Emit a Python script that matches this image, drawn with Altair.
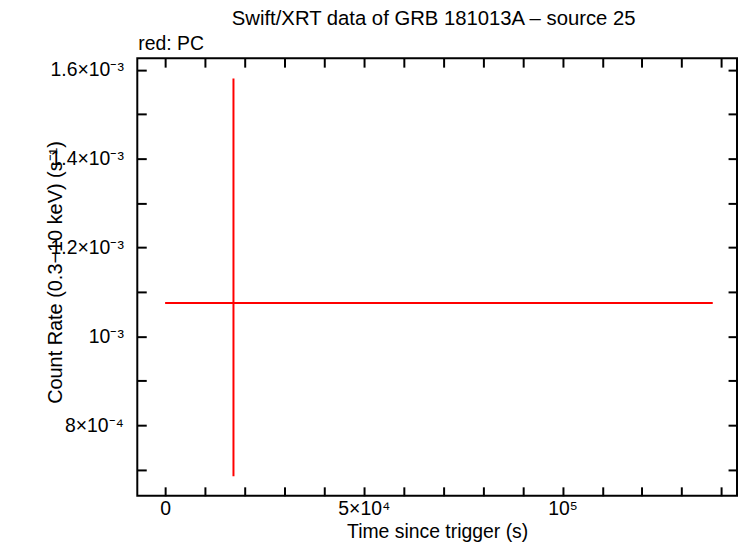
import altair as alt
import pandas as pd

# ---- data ----
T_CENTRE = [17200]
T_START = [0]
T_END = [137800]
RATE = [1.075e-3]
RATE_LO = [6.85e-4]
RATE_HI = [1.580e-3]

X_LABEL_VALUES = [0, 50000, 100000]
X_LABEL_TEXT = ["0", "5×10⁴", "10⁵"]
X_TICK_VALUES = [0, 10000, 20000, 30000, 40000, 50000, 60000, 70000,
                 80000, 90000, 100000, 110000, 120000, 130000, 140000]
Y_LABEL_VALUES = [8e-4, 1.0e-3, 1.2e-3, 1.4e-3, 1.6e-3]
Y_LABEL_TEXT = ["8×10⁻⁴", "10⁻³", "1.2×10⁻³", "1.4×10⁻³", "1.6×10⁻³"]
Y_TICK_VALUES = [7e-4, 8e-4, 9e-4, 1.0e-3, 1.1e-3, 1.2e-3, 1.3e-3,
                 1.4e-3, 1.5e-3, 1.6e-3]

X_DOMAIN = [-7000, 143900]
Y_DOMAIN = [6.41e-4, 1.6258e-3]

TITLE = "Swift/XRT data of GRB 181013A – source 25"
SUBTITLE = "red: PC"
X_TITLE = "Time since trigger (s)"
Y_TITLE = "Count Rate (0.3−10 keV) (s⁻¹)"

FONT = "Liberation Sans"
RED = "#ff0000"
W, H = 603, 440

df = pd.DataFrame({
    "t": T_CENTRE, "t0": T_START, "t1": T_END,
    "rate": RATE, "lo": RATE_LO, "hi": RATE_HI,
})


def label_expr(values, texts, eps):
    expr = "''"
    for v, t in reversed(list(zip(values, texts))):
        expr = f"abs(datum.value - ({v!r})) < {eps} ? '{t}' : ({expr})"
    return expr


xs = alt.Scale(domain=X_DOMAIN, nice=False, zero=False)
ys = alt.Scale(domain=Y_DOMAIN, nice=False, zero=False)

common_lab = dict(labelFont=FONT, labelFontSize=19.5, labelColor="black",
                  titleFont=FONT, titleColor="black",
                  titleFontWeight="normal", grid=False, domain=False, ticks=False,
                  labelFlush=False, labelOverlap=False)

x_label_axis = alt.Axis(orient="bottom", values=X_LABEL_VALUES,
                        labelExpr=label_expr(X_LABEL_VALUES, X_LABEL_TEXT, 1),
                        labelBaseline="alphabetic", labelPadding=19,
                        title=X_TITLE, titleBaseline="alphabetic", titleY=42,
                        titleFontSize=19.5, **common_lab)
y_label_axis = alt.Axis(orient="left", values=Y_LABEL_VALUES,
                        labelExpr=label_expr(Y_LABEL_VALUES, Y_LABEL_TEXT, 1e-6),
                        labelPadding=14,
                        title=Y_TITLE, titleX=-76, titleY=215,
                        titleBaseline="alphabetic", titleFontSize=20,
                        **common_lab)


def tick_axis(orient, values):
    return alt.Axis(orient=orient, values=values, labels=False, domain=False,
                    grid=False, ticks=True, tickSize=9, tickWidth=2,
                    tickColor="black", offset=-9, title=None)


vert = alt.Chart().mark_rule(color=RED, strokeWidth=2).encode(
    x=alt.X("t:Q", scale=xs, axis=x_label_axis),
    y=alt.Y("lo:Q", scale=ys, axis=y_label_axis),
    y2="hi:Q",
)

horiz = alt.Chart().mark_rule(color=RED, strokeWidth=2).encode(
    x=alt.X("t0:Q", scale=xs, axis=tick_axis("bottom", X_TICK_VALUES)),
    x2="t1:Q",
    y=alt.Y("rate:Q", scale=ys, axis=tick_axis("left", Y_TICK_VALUES)),
)

ghost = alt.Chart().mark_point(opacity=0).encode(
    x=alt.X("t:Q", scale=xs, axis=tick_axis("top", X_TICK_VALUES)),
    y=alt.Y("rate:Q", scale=ys, axis=tick_axis("right", Y_TICK_VALUES)),
)

title = alt.Chart().mark_text(text=TITLE, align="center", baseline="alphabetic",
                              font=FONT, fontSize=20.4, color="black").encode(
    x=alt.value(298), y=alt.value(-33)
)

sub = alt.Chart().mark_text(text=SUBTITLE, align="left", baseline="alphabetic",
                            font=FONT, fontSize=19.5, color="black").encode(
    x=alt.value(1), y=alt.value(-8)
)

chart = alt.layer(vert, horiz, ghost, title, sub, data=df).resolve_axis(
    x="independent", y="independent"
).properties(
    width=W, height=H,
    autosize=alt.AutoSizeParams(type="none"),
    padding={"left": 130, "top": 49, "right": 1, "bottom": 45},
).configure_view(stroke="black", strokeWidth=2)

chart.save("out.html", embed_options={"renderer": "svg", "actions": False})
